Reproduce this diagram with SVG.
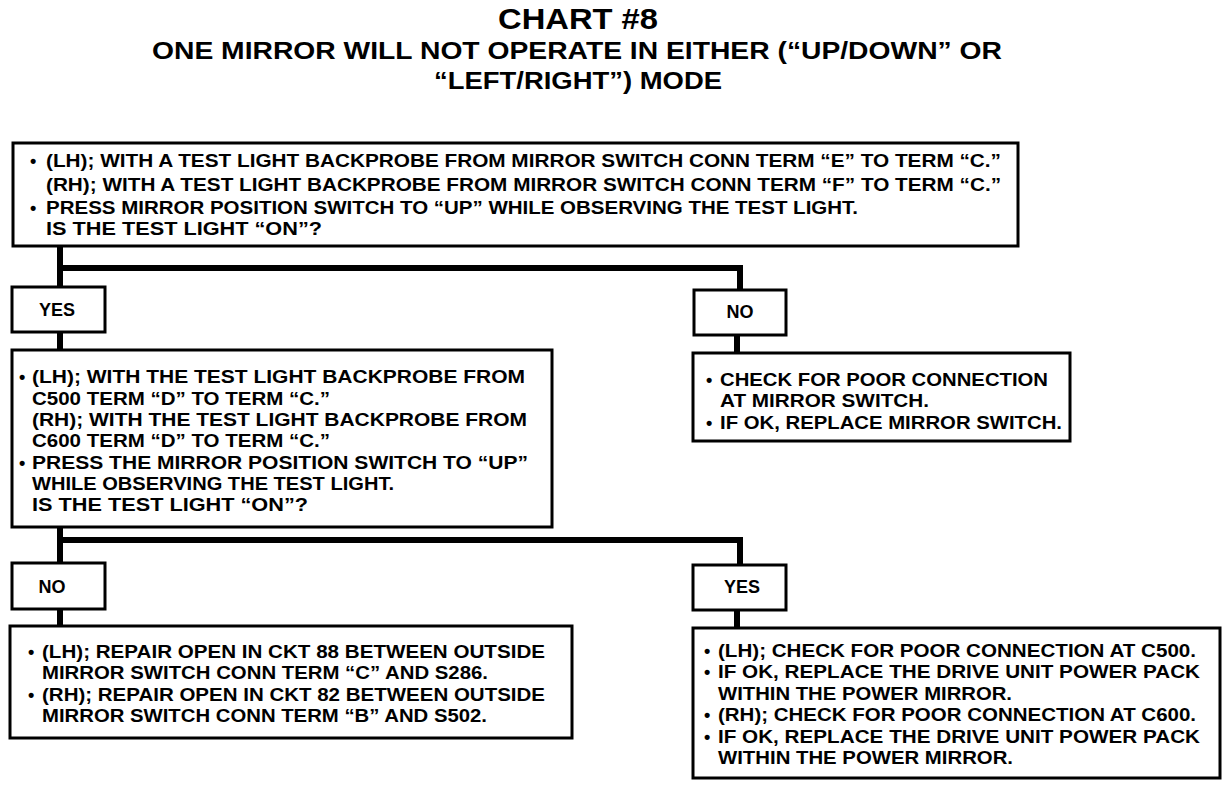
<svg xmlns="http://www.w3.org/2000/svg" width="1232" height="790" viewBox="0 0 1232 790">
<style>
text{font-family:"Liberation Sans",Arial,sans-serif;font-weight:bold;fill:#000}
.t{font-size:18px}
.h1{font-size:29px}
.h2{font-size:24px}
.box{fill:#fff;stroke:#000;stroke-width:3}
.con{fill:none;stroke:#000;stroke-width:6}
</style>
<rect width="1232" height="790" fill="#fff"/>
<g id="title">
<text class="h1" x="578" y="29" text-anchor="middle" textLength="160" lengthAdjust="spacingAndGlyphs">CHART #8</text>
<text class="h2" x="577" y="59" text-anchor="middle" textLength="850" lengthAdjust="spacingAndGlyphs">ONE MIRROR WILL NOT OPERATE IN EITHER (“UP/DOWN” OR</text>
<text class="h2" x="578" y="89" text-anchor="middle" textLength="288" lengthAdjust="spacingAndGlyphs">“LEFT/RIGHT”) MODE</text>
</g>
<g id="connectors">
<polyline class="con" points="60,246 60,268 740,268 740,290"/>
<line class="con" x1="60" y1="268" x2="60" y2="287"/>
<line class="con" x1="60" y1="332" x2="60" y2="350"/>
<line class="con" x1="737" y1="335" x2="737" y2="353"/>
<polyline class="con" points="60,527 60,540 740,540 740,565"/>
<line class="con" x1="60" y1="540" x2="60" y2="563"/>
<line class="con" x1="60" y1="609" x2="60" y2="626"/>
<line class="con" x1="737" y1="610" x2="737" y2="628"/>
</g>
<g id="n1">
<rect class="box" x="13" y="143" width="1005" height="103"/>
<text class="t" x="30" y="167">•</text>
<text class="t" x="46" y="167" textLength="955" lengthAdjust="spacingAndGlyphs">(LH); WITH A TEST LIGHT BACKPROBE FROM MIRROR SWITCH CONN TERM “E” TO TERM “C.”</text>
<text class="t" x="46" y="191" textLength="955" lengthAdjust="spacingAndGlyphs">(RH); WITH A TEST LIGHT BACKPROBE FROM MIRROR SWITCH CONN TERM “F” TO TERM “C.”</text>
<text class="t" x="30" y="214">•</text>
<text class="t" x="46" y="214" textLength="812" lengthAdjust="spacingAndGlyphs">PRESS MIRROR POSITION SWITCH TO “UP” WHILE OBSERVING THE TEST LIGHT.</text>
<text class="t" x="46" y="235" textLength="276" lengthAdjust="spacingAndGlyphs">IS THE TEST LIGHT “ON”?</text>
</g>
<g id="yes1">
<rect class="box" x="12" y="287" width="93" height="45"/>
<text class="t" x="57" y="316" text-anchor="middle">YES</text>
</g>
<g id="no1">
<rect class="box" x="694" y="290" width="92" height="45"/>
<text class="t" x="740" y="318" text-anchor="middle">NO</text>
</g>
<g id="n2">
<rect class="box" x="693" y="353" width="377" height="88"/>
<text class="t" x="706" y="386">•</text>
<text class="t" x="720" y="386" textLength="328" lengthAdjust="spacingAndGlyphs">CHECK FOR POOR CONNECTION</text>
<text class="t" x="720" y="407" textLength="209" lengthAdjust="spacingAndGlyphs">AT MIRROR SWITCH.</text>
<text class="t" x="706" y="429">•</text>
<text class="t" x="720" y="429" textLength="342" lengthAdjust="spacingAndGlyphs">IF OK, REPLACE MIRROR SWITCH.</text>
</g>
<g id="n3">
<rect class="box" x="12" y="350" width="540" height="177"/>
<text class="t" x="19" y="383">•</text>
<text class="t" x="32" y="383" textLength="493" lengthAdjust="spacingAndGlyphs">(LH); WITH THE TEST LIGHT BACKPROBE FROM</text>
<text class="t" x="32" y="405" textLength="298" lengthAdjust="spacingAndGlyphs">C500 TERM “D” TO TERM “C.”</text>
<text class="t" x="32" y="426" textLength="495" lengthAdjust="spacingAndGlyphs">(RH); WITH THE TEST LIGHT BACKPROBE FROM</text>
<text class="t" x="32" y="447" textLength="298" lengthAdjust="spacingAndGlyphs">C600 TERM “D” TO TERM “C.”</text>
<text class="t" x="19" y="469">•</text>
<text class="t" x="32" y="469" textLength="496" lengthAdjust="spacingAndGlyphs">PRESS THE MIRROR POSITION SWITCH TO “UP”</text>
<text class="t" x="32" y="490" textLength="362" lengthAdjust="spacingAndGlyphs">WHILE OBSERVING THE TEST LIGHT.</text>
<text class="t" x="32" y="511" textLength="276" lengthAdjust="spacingAndGlyphs">IS THE TEST LIGHT “ON”?</text>
</g>
<g id="no2">
<rect class="box" x="12" y="563" width="93" height="46"/>
<text class="t" x="52" y="593" text-anchor="middle">NO</text>
</g>
<g id="yes2">
<rect class="box" x="693" y="565" width="93" height="45"/>
<text class="t" x="742" y="593" text-anchor="middle">YES</text>
</g>
<g id="n4">
<rect class="box" x="10" y="626" width="562" height="112"/>
<text class="t" x="28" y="658">•</text>
<text class="t" x="42" y="658" textLength="503" lengthAdjust="spacingAndGlyphs">(LH); REPAIR OPEN IN CKT 88 BETWEEN OUTSIDE</text>
<text class="t" x="42" y="679" textLength="446" lengthAdjust="spacingAndGlyphs">MIRROR SWITCH CONN TERM “C” AND S286.</text>
<text class="t" x="28" y="701">•</text>
<text class="t" x="42" y="701" textLength="503" lengthAdjust="spacingAndGlyphs">(RH); REPAIR OPEN IN CKT 82 BETWEEN OUTSIDE</text>
<text class="t" x="42" y="722" textLength="445" lengthAdjust="spacingAndGlyphs">MIRROR SWITCH CONN TERM “B” AND S502.</text>
</g>
<g id="n5">
<rect class="box" x="693" y="628" width="527" height="150"/>
<text class="t" x="704" y="657">•</text>
<text class="t" x="718" y="657" textLength="478" lengthAdjust="spacingAndGlyphs">(LH); CHECK FOR POOR CONNECTION AT C500.</text>
<text class="t" x="704" y="678">•</text>
<text class="t" x="718" y="678" textLength="482" lengthAdjust="spacingAndGlyphs">IF OK, REPLACE THE DRIVE UNIT POWER PACK</text>
<text class="t" x="718" y="700" textLength="294" lengthAdjust="spacingAndGlyphs">WITHIN THE POWER MIRROR.</text>
<text class="t" x="704" y="721">•</text>
<text class="t" x="718" y="721" textLength="478" lengthAdjust="spacingAndGlyphs">(RH); CHECK FOR POOR CONNECTION AT C600.</text>
<text class="t" x="704" y="743">•</text>
<text class="t" x="718" y="743" textLength="482" lengthAdjust="spacingAndGlyphs">IF OK, REPLACE THE DRIVE UNIT POWER PACK</text>
<text class="t" x="718" y="764" textLength="295" lengthAdjust="spacingAndGlyphs">WITHIN THE POWER MIRROR.</text>
</g>
</svg>
